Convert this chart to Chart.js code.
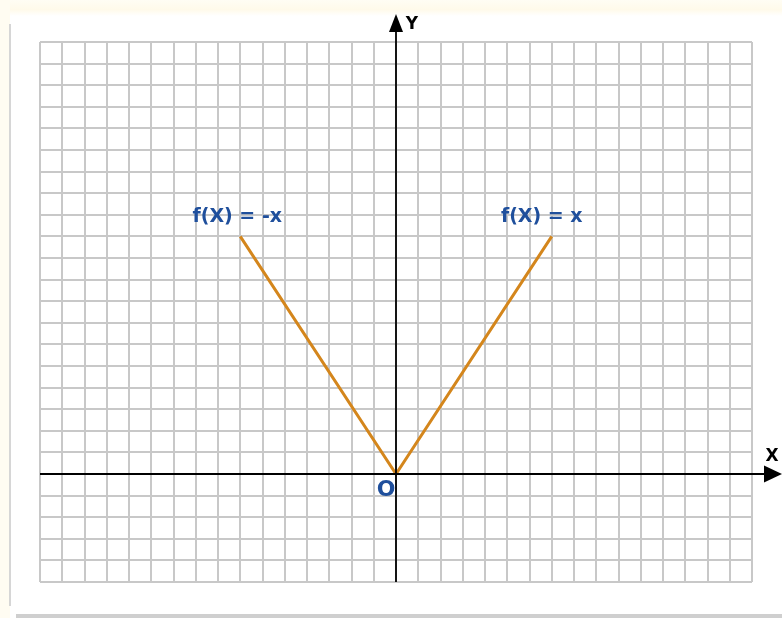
<!DOCTYPE html>
<html>
<head>
<meta charset="utf-8">
<script src="https://cdn.jsdelivr.net/npm/chart.js@4/dist/chart.umd.min.js"></script>
<style>
  html, body { margin: 0; padding: 0; background: #fff; }
  #wrap { position: relative; width: 782px; height: 618px; overflow: hidden; }
  .top { position: absolute; left: 0; top: 0; width: 782px; height: 16px;
         background: linear-gradient(#fffdf4, #fffaea 60%, #fff); }
  .left { position: absolute; left: 0; top: 0; width: 10px; height: 618px; background: #fffcf2; }
  .leftline { position: absolute; left: 9px; top: 24px; width: 2px; height: 582px; background: #d6d6d6; }
  .bottom { position: absolute; left: 16px; top: 614px; width: 766px; height: 4px; background: #cfcfcf; }
  canvas { position: absolute; left: 0; top: 0; }
</style>
</head>
<body>
<div id="wrap">
  <div class="top"></div>
  <div class="left"></div>
  <div class="leftline"></div>
  <div class="bottom"></div>
  <canvas id="graph" width="782" height="618"></canvas>
</div>
<script>
// points of the V shape
const xValues = [-7, 0, 7];
const yValues = [11, 0, 11];
const xRange = [-16, 16];
const yRange = [-5, 20];
const labels = [
  { text: "f(X) = -x", x: -7, y: 11, dx: -3 },
  { text: "f(X) = x", x: 7, y: 11, dx: -10 }
];

const axesPlugin = {
  id: "axes",
  afterDraw(chart) {
    const ctx = chart.ctx;
    const { left, right, top, bottom } = chart.chartArea;
    const xs = chart.scales.x, ys = chart.scales.y;
    const x0 = xs.getPixelForValue(0);
    const y0 = ys.getPixelForValue(0);
    ctx.save();
    ctx.strokeStyle = "#000";
    ctx.fillStyle = "#000";
    ctx.lineWidth = 1.8;
    // y axis
    ctx.beginPath();
    ctx.moveTo(x0, bottom);
    ctx.lineTo(x0, top - 20);
    ctx.stroke();
    ctx.beginPath();
    ctx.moveTo(x0, top - 28);
    ctx.lineTo(x0 - 7, top - 10);
    ctx.lineTo(x0 + 7, top - 10);
    ctx.closePath();
    ctx.fill();
    // x axis
    ctx.beginPath();
    ctx.moveTo(left, y0);
    ctx.lineTo(right + 14, y0);
    ctx.stroke();
    ctx.beginPath();
    ctx.moveTo(right + 30, y0);
    ctx.lineTo(right + 12, y0 - 8.5);
    ctx.lineTo(right + 12, y0 + 8.5);
    ctx.closePath();
    ctx.fill();
    ctx.font = "bold 17px 'DejaVu Sans', sans-serif";
    ctx.textAlign = "center";
    ctx.textBaseline = "middle";
    ctx.fillText("Y", x0 + 16, top - 17);
    ctx.fillText("X", right + 20, y0 - 17);
    // function labels
    ctx.fillStyle = "#1f4f9c";
    ctx.font = "bold 19px 'DejaVu Sans', sans-serif";
    labels.forEach(l => {
      const px = xs.getPixelForValue(l.x);
      const py = ys.getPixelForValue(l.y);
      ctx.fillText(l.text, px + l.dx, py - 19);
    });
    ctx.font = "bold 22px 'DejaVu Sans', sans-serif";
    ctx.fillText("O", x0 - 10, y0 + 16);
    ctx.restore();
  }
};

new Chart(document.getElementById("graph"), {
  type: "line",
  data: {
    datasets: [{
      data: xValues.map((x, i) => ({ x: x, y: yValues[i] })),
      borderColor: "#d4861c",
      borderWidth: 3,
      pointRadius: 0,
      tension: 0,
      fill: false
    }]
  },
  options: {
    responsive: false,
    animation: false,
    layout: { padding: { left: 40, right: 30, top: 42, bottom: 36 } },
    plugins: { legend: { display: false }, tooltip: { enabled: false } },
    scales: {
      x: {
        type: "linear", min: xRange[0], max: xRange[1],
        ticks: { display: false, stepSize: 1 },
        grid: { color: "#c8c8c8", lineWidth: 2, drawTicks: false },
        border: { display: false }
      },
      y: {
        type: "linear", min: yRange[0], max: yRange[1],
        ticks: { display: false, stepSize: 1 },
        grid: { color: "#c8c8c8", lineWidth: 2, drawTicks: false },
        border: { display: false }
      }
    }
  },
  plugins: [axesPlugin]
});
</script>
</body>
</html>
